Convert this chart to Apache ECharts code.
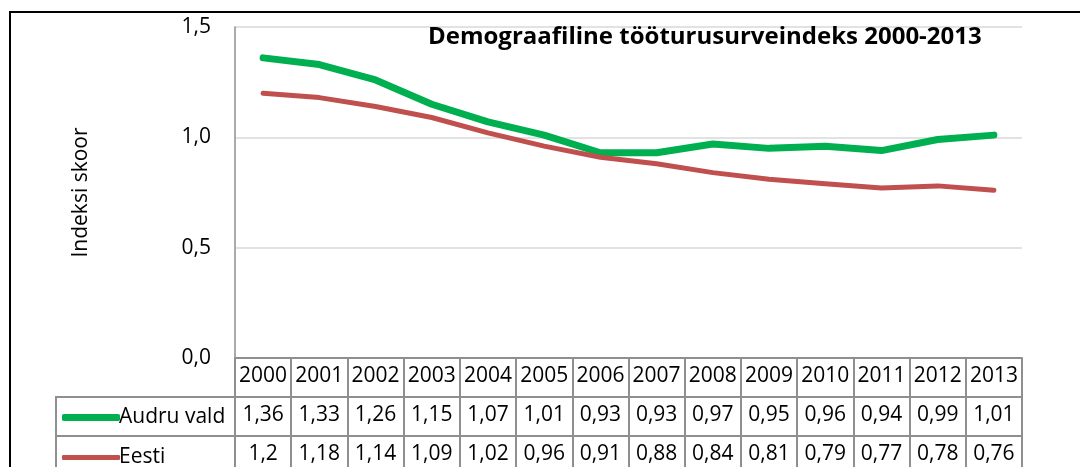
<!DOCTYPE html>
<html>
<head>
<meta charset="utf-8">
<script src="https://cdn.jsdelivr.net/npm/echarts@6/dist/echarts.min.js"></script>
<style>
  html, body { margin: 0; padding: 0; background: #fff; }
  #chart { width: 1080px; height: 467px; }
</style>
</head>
<body>
<div id="chart"></div>
<script>
// andmed
const years = ['2000', '2001', '2002', '2003', '2004', '2005', '2006', '2007', '2008', '2009', '2010', '2011', '2012', '2013']
const audruVald = [1.36, 1.33, 1.26, 1.15, 1.07, 1.01, 0.93, 0.93, 0.97, 0.95, 0.96, 0.94, 0.99, 1.01]
const eesti = [1.2, 1.18, 1.14, 1.09, 1.02, 0.96, 0.91, 0.88, 0.84, 0.81, 0.79, 0.77, 0.78, 0.76]
const yTicks = [0, 0.5, 1.0, 1.5]

const FONT = '"Open Sans", sans-serif'
const tableLine = { color: '#8f8f8f', width: 2 }

function comma(v) {
  return String(v).replace('.', ',')
}

// one bottom axis per table row, ticks make the cell borders
function tableAxis(offset, labels) {
  return {
    type: 'category',
    position: 'bottom',
    offset: offset,
    boundaryGap: true,
    data: years,
    axisLine: { show: true, lineStyle: tableLine },
    axisTick: { show: true, length: 39, interval: 0, lineStyle: tableLine },
    axisLabel: {
      interval: 0,
      margin: 8,
      color: '#000',
      fontFamily: FONT,
      fontSize: 21,
      formatter: function (v, i) { return labels[i] }
    },
    splitLine: { show: false }
  }
}

function legendRow(name, top, height) {
  return {
    orient: 'horizontal',
    left: 57,
    top: top,
    itemWidth: 58,
    itemHeight: height,
    selectedMode: false,
    icon: 'roundRect',
    textStyle: { fontFamily: FONT, fontSize: 21, color: '#000', padding: [0, 0, 0, -6] },
    data: [name]
  }
}

const chart = echarts.init(document.getElementById('chart'), null, { renderer: 'canvas' })

const option = {
  backgroundColor: '#fff',
  animation: false,
  title: {
    text: 'Demograafiline tööturusurveindeks 2000-2013',
    left: 423,
    top: 20,
    textStyle: { fontFamily: FONT, fontWeight: 'bold', fontSize: 24, color: '#000' }
  },
  legend: [
    legendRow('Audru vald', 402, 7),
    legendRow('Eesti', 442, 5)
  ],
  grid: { left: 235, right: 58, top: 27, bottom: 109, containLabel: false },
  xAxis: [
    tableAxis(0, years),
    tableAxis(39, audruVald.map(comma)),
    tableAxis(78, eesti.map(comma))
  ],
  yAxis: {
    type: 'value',
    min: yTicks[0],
    max: yTicks[yTicks.length - 1],
    interval: 0.5,
    name: 'Indeksi skoor',
    nameLocation: 'middle',
    nameRotate: 90,
    nameGap: 143,
    nameTextStyle: { fontFamily: FONT, fontSize: 21, color: '#000' },
    axisLine: { show: true, lineStyle: { color: '#8f8f8f', width: 1.5 } },
    axisTick: { show: false },
    axisLabel: {
      margin: 24,
      color: '#000',
      fontFamily: FONT,
      fontSize: 21,
      formatter: function (v) { return v.toFixed(1).replace('.', ',') }
    },
    splitLine: { show: true, lineStyle: { color: '#d9d9d9', width: 1.5 } }
  },
  series: [
    {
      name: 'Audru vald',
      type: 'line',
      xAxisIndex: 0,
      data: audruVald,
      symbol: 'none',
      lineStyle: { color: '#00b050', width: 7, cap: 'round', join: 'round' },
      itemStyle: { color: '#00b050' }
    },
    {
      name: 'Eesti',
      type: 'line',
      xAxisIndex: 0,
      data: eesti,
      symbol: 'none',
      lineStyle: { color: '#c0504d', width: 5, cap: 'round', join: 'round' },
      itemStyle: { color: '#c0504d' }
    }
  ],
  graphic: [
    // outer chart frame
    {
      type: 'polyline',
      shape: { points: [[10, 467], [10, 12], [1080, 12]] },
      style: { stroke: '#000', lineWidth: 2, fill: null }
    },
    // row header cells of the data table
    {
      type: 'polyline',
      shape: { points: [[235, 397], [56, 397], [56, 467]] },
      style: { stroke: '#8f8f8f', lineWidth: 2, fill: null }
    },
    {
      type: 'line',
      shape: { x1: 56, y1: 436, x2: 235, y2: 436 },
      style: { stroke: '#8f8f8f', lineWidth: 2 }
    }
  ]
}

chart.setOption(option)
</script>
</body>
</html>
